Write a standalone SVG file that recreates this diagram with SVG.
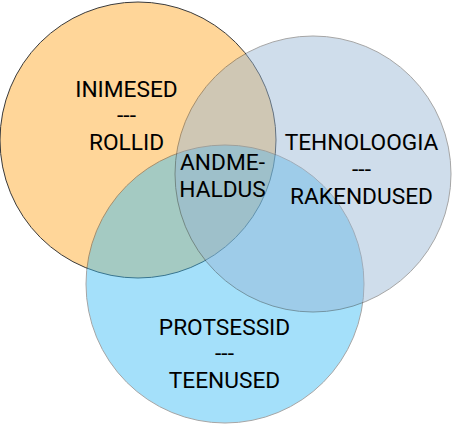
<svg xmlns="http://www.w3.org/2000/svg" width="455" height="425" viewBox="0 0 455 425">
<style>
.c{stroke:#3a3a3a;stroke-width:1}
.t{font-family:Roboto,"Liberation Sans",sans-serif;font-size:22.7px;fill:#000;text-anchor:middle}
</style>
<rect width="455" height="425" fill="#fff"/>
<g id="inimesed">
<circle class="c" cx="138" cy="140" r="138" fill="#FFD699"/>
</g>
<g id="protsessid">
<circle class="c" cx="225" cy="284" r="139" fill="#37BCF4" opacity="0.45"/>
</g>
<g id="tehnoloogia">
<circle class="c" cx="313" cy="174" r="138" fill="#97B6D5" opacity="0.45"/>
</g>
<g id="labels">
<text class="t" x="126.5" y="97">INIMESED</text>
<text class="t" x="126.5" y="123">---</text>
<text class="t" x="126.5" y="150">ROLLID</text>
<text class="t" x="361.5" y="150">TEHNOLOOGIA</text>
<text class="t" x="361.5" y="177">---</text>
<text class="t" x="361.5" y="204">RAKENDUSED</text>
<text class="t" x="222.5" y="170">ANDME-</text>
<text class="t" x="222.5" y="197">HALDUS</text>
<text class="t" x="224.5" y="335">PROTSESSID</text>
<text class="t" x="224.5" y="361">---</text>
<text class="t" x="224.5" y="388">TEENUSED</text>
</g>
</svg>
